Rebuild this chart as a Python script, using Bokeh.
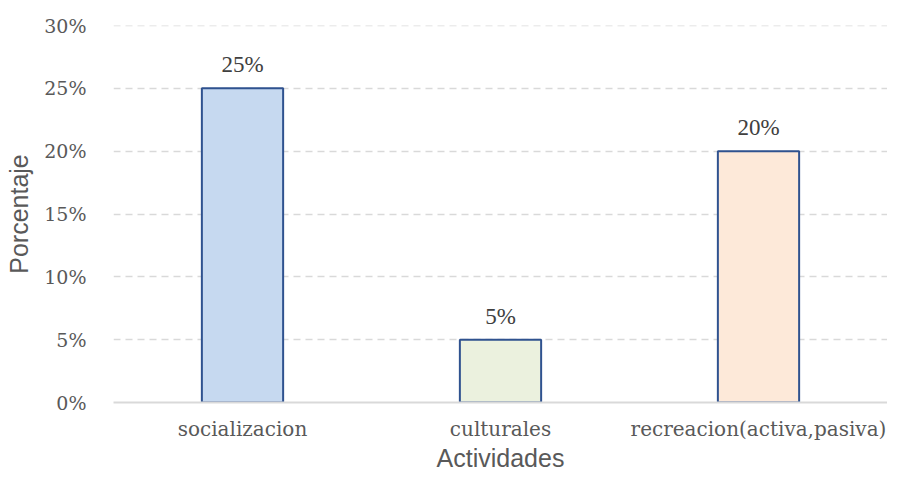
from bokeh.plotting import figure
from bokeh.models import ColumnDataSource, LabelSet, NumeralTickFormatter, FixedTicker, Span
from bokeh.embed import file_html
from bokeh.resources import INLINE

categories = ["socializacion", "culturales", "recreacion(activa,pasiva)"]
values = [0.25, 0.05, 0.20]
labels = ["25%", "5%", "20%"]
colors = ["#C6D9F0", "#EBF1DE", "#FDE9D9"]
y_ticks = [0, 0.05, 0.10, 0.15, 0.20, 0.25, 0.30]

src = ColumnDataSource(dict(cat=categories, val=values, lab=labels, col=colors))

p = figure(x_range=categories, y_range=(0, 0.30), width=887, height=474,
           output_backend="svg", toolbar_location=None,
           min_border_left=113, min_border_right=0, min_border_top=25, min_border_bottom=61)
p.outline_line_color = None
p.background_fill_color = "white"

p.vbar(x="cat", top="val", width=0.315, source=src, fill_color="col",
       line_color="#2F528F", line_width=2)

serif = "DejaVu Serif"
lbl = LabelSet(x="cat", y="val", text="lab", source=src, text_align="center",
               text_baseline="bottom", y_offset=11, text_font=serif,
               text_font_size="23px", text_color="#404040")
p.add_layout(lbl)

p.yaxis.ticker = FixedTicker(ticks=y_ticks)
p.yaxis.formatter = NumeralTickFormatter(format="0%")
p.yaxis.axis_line_color = None
p.yaxis.major_tick_line_color = None
p.yaxis.minor_tick_line_color = None
p.yaxis.major_label_text_font = serif
p.yaxis.major_label_text_font_size = "19px"
p.yaxis.major_label_text_color = "#595959"
p.yaxis.major_label_standoff = 21
p.yaxis.axis_label = "Porcentaje"
p.yaxis.axis_label_text_font = "Liberation Sans"
p.yaxis.axis_label_text_font_style = "normal"
p.yaxis.axis_label_text_font_size = "25px"
p.yaxis.axis_label_text_color = "#595959"
p.yaxis.axis_label_standoff = 8

p.xaxis.axis_line_color = "#D9D9D9"
p.xaxis.axis_line_width = 2
p.xaxis.major_tick_line_color = None
p.xaxis.minor_tick_line_color = None
p.xaxis.major_label_text_font = serif
p.xaxis.major_label_text_font_size = "20px"
p.xaxis.major_label_text_color = "#595959"
p.xaxis.major_label_standoff = 8
p.xaxis.axis_label = "Actividades"
p.xaxis.axis_label_text_font = "Liberation Sans"
p.xaxis.axis_label_text_font_style = "normal"
p.xaxis.axis_label_text_font_size = "25px"
p.xaxis.axis_label_text_color = "#595959"
p.xaxis.axis_label_standoff = 0

p.xgrid.grid_line_color = None
p.ygrid.grid_line_color = "#D9D9D9"
p.ygrid.grid_line_dash = "7 5"
p.ygrid.grid_line_width = 1.5

top_line = Span(location=y_ticks[-1], dimension="width", line_color="#D9D9D9",
                line_dash="7 5", line_width=1.5)
p.add_layout(top_line)

open("out.html", "w").write(file_html(p, INLINE))
